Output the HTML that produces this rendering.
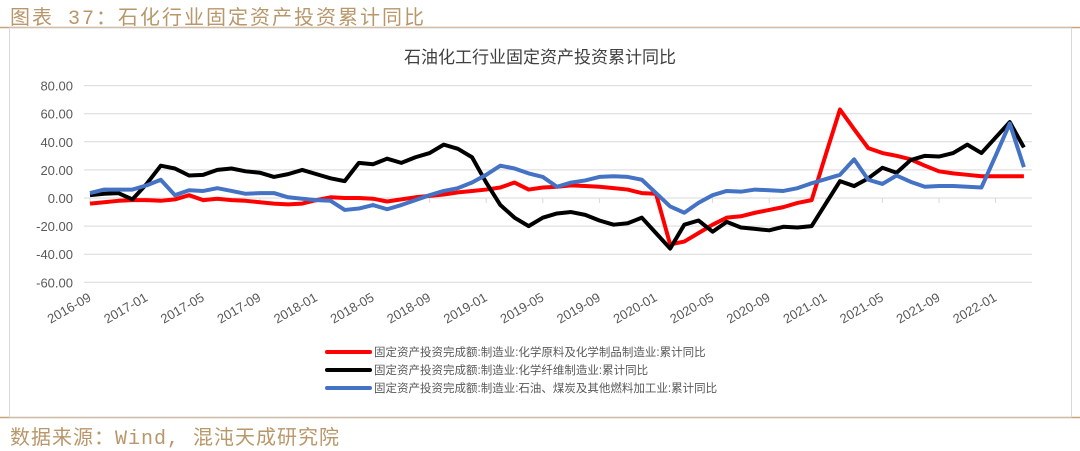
<!DOCTYPE html>
<html><head><meta charset="utf-8">
<style>
body{margin:0;background:#fff;width:1080px;height:451px;overflow:hidden;font-family:"Liberation Sans","Noto Sans CJK SC",sans-serif;}
.t{position:absolute;left:10px;top:1px;font-size:20px;color:#b8976a;letter-spacing:2px;font-family:"Liberation Mono","Noto Sans CJK SC",monospace;}
.f{position:absolute;left:10px;top:421px;font-size:20px;color:#b8976a;letter-spacing:1px;font-family:"Liberation Mono","Noto Sans CJK SC",monospace;}
</style></head><body>
<div class="t">图表 37：石化行业固定资产投资累计同比</div>
<div class="f">数据来源：Wind, 混沌天成研究院</div>
<svg id="c" width="1080" height="451" style="position:absolute;left:0;top:0">
<line x1="0" y1="27.5" x2="1080" y2="27.5" stroke="#c8a47a" stroke-width="1.5"/>
<line x1="0" y1="417.5" x2="1080" y2="417.5" stroke="#c8a47a" stroke-width="1.5"/>
<rect x="9.5" y="28" width="1062" height="389" fill="none" stroke="#d9d9d9"/>
<text x="540" y="63" text-anchor="middle" font-size="17" fill="#404040">石油化工行业固定资产投资累计同比</text>
</svg>
<script>
const yTicks=[80,60,40,20,0,-20,-40,-60];
const xLabels=["2016-09","2017-01","2017-05","2017-09","2018-01","2018-05","2018-09","2019-01","2019-05","2019-09","2020-01","2020-05","2020-09","2021-01","2021-05","2021-09","2022-01"];
const seriesNames=["固定资产投资完成额:制造业:化学原料及化学制品制造业:累计同比","固定资产投资完成额:制造业:化学纤维制造业:累计同比","固定资产投资完成额:制造业:石油、煤炭及其他燃料加工业:累计同比"];
const red=[-4,-3,-2,-1.5,-1.5,-2,-1,2,-1.5,-0.5,-1.5,-2,-3,-4,-4.5,-4,-1.5,0.5,0,0,-0.5,-2.5,-1,0.5,1.5,2.5,4,5,6,7.5,11,6,7.5,8,9,8.5,8,7,6,3.5,3,-33,-31,-25,-19,-14,-13,-10.5,-8.5,-6.5,-3.5,-1.5,31,63,49,35.5,32,30,27.5,23,19,17.5,16.5,15.5,15.5,15.5,15.5];
const black=[2,3,3.5,-1,10,23,21,16,16.5,20,21,19,18,15,17,20,17,14,12,25,24,28,25,29,32,38,35,29,11,-5,-14,-20,-14,-11,-10,-12,-16,-19,-18,-14,-25,-36,-19,-16,-24,-17,-21,-22,-23,-20.5,-21,-20,-4,12,8.5,14,21.5,18,27,30,29.5,32,38,32,43,54,36];
const blue=[3.5,6,6,6,9,13,2,5.5,5,7,5,3,3.5,3.5,0.5,-0.5,-1.5,-2,-8.5,-7.5,-5,-8,-5,-1.5,2,5,7,11,16.5,23,21,17.5,15,8,11,12.5,15,15.5,15,13,3.5,-6,-10.5,-3.5,2,5,4.5,6,5.5,5,7,10.5,13.5,16.5,27.5,13,10,16,11.5,8,8.5,8.5,8,7.5,30,53,22];
const NS="http://www.w3.org/2000/svg";
const svg=document.getElementById('c');
const X0=90,DX=14.15,Y0=198,YS=1.405,GX1=84,GX2=1032;
const xs=i=>X0+i*DX, ys=v=>Y0-v*YS;
function mk(t,a){const e=document.createElementNS(NS,t);for(const k in a)e.setAttribute(k,a[k]);svg.appendChild(e);return e;}
yTicks.forEach(v=>{
 const g=mk('line',{x1:GX1,x2:GX2,y1:ys(v),y2:ys(v),stroke:'#d9d9d9','stroke-width':1});
 
 
 const t=mk('text',{x:73,y:ys(v)+5,'text-anchor':'end','font-size':13,fill:'#595959'});
 t.textContent=v.toFixed(2);
 
 
});
xLabels.forEach((l,k)=>{
 const x=xs(k*4);
 const tk=mk('line',{x1:x,x2:x,y1:ys(0),y2:ys(0)+5,stroke:'#d9d9d9'});
 
 
 const t=mk('text',{x:x+2,y:300,'text-anchor':'end','font-size':13,fill:'#595959',transform:`rotate(-30 ${x+2} 300)`});
 t.textContent=l;
 
 
});
const cols=['#ff0000','#000000','#4472c4'];
[red,black,blue].forEach((d,s)=>{
 const p=mk('polyline',{points:d.map((v,i)=>xs(i)+','+ys(v)).join(' '),fill:'none',stroke:cols[s],'stroke-width':4,'stroke-linejoin':'round'});
 
 
 const ly=352+s*18;
 const ll=mk('line',{x1:327,x2:370,y1:ly,y2:ly,stroke:cols[s],'stroke-width':4,'stroke-linecap':'round'});
 
 
 const lt=mk('text',{x:374,y:ly+4,'font-size':11.5,fill:'#595959'});
 lt.textContent=seriesNames[s];
 
 
});
</script>
</body></html>
